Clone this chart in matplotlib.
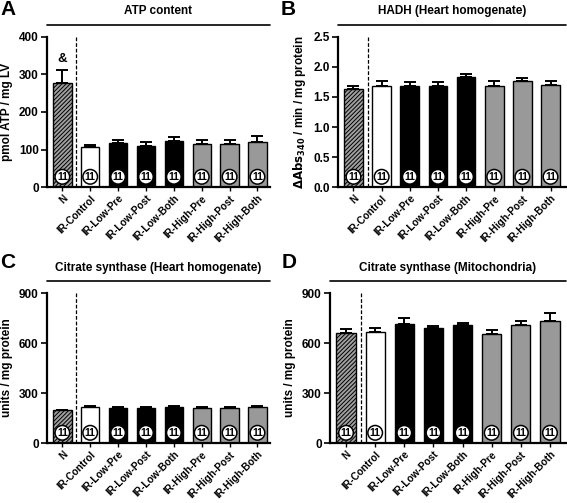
import numpy as np
import matplotlib
matplotlib.use('Agg')
import matplotlib.pyplot as plt
import matplotlib.transforms as mtransforms

plt.rcParams['font.family'] = ['Liberation Sans', 'DejaVu Sans']
plt.rcParams['font.weight'] = 'bold'
plt.rcParams['hatch.color'] = '#222222'
plt.rcParams['hatch.linewidth'] = 0.7

groups = ['N', 'IR-Control', 'IR-Low-Pre', 'IR-Low-Post', 'IR-Low-Both',
          'IR-High-Pre', 'IR-High-Post', 'IR-High-Both']
n_per_group = [11, 11, 11, 11, 11, 11, 11, 11]

atp_mean = [278, 106, 117, 110, 123, 115, 114, 121]
atp_err = [35, 6, 7, 10, 10, 9, 10, 14]

hadh_mean = [1.63, 1.69, 1.68, 1.69, 1.84, 1.69, 1.76, 1.70]
hadh_err = [0.05, 0.07, 0.07, 0.06, 0.04, 0.07, 0.06, 0.07]

cs_hom_mean = [197, 215, 213, 213, 218, 208, 210, 215]
cs_hom_err = [3, 6, 5, 6, 6, 7, 4, 5]

cs_mito_mean = [660, 668, 715, 688, 710, 655, 710, 730]
cs_mito_err = [27, 20, 33, 17, 12, 23, 20, 48]

face = ['#a0a0a0', 'white', 'black', 'black', 'black', '#999999', '#999999', '#999999']
hatches = ['////////', None, None, None, None, None, None, None]

fig = plt.figure(figsize=(5.67, 5.03), dpi=100)
W, H = 567.0, 503.0


def panel(rect, letter, letter_xy, title, mean, err, ylim, yticks, ylabel, yfmt, xr=7.45, andsign=False):
    l, t, r, b = rect
    ax = fig.add_axes([l / W, 1 - b / H, (r - l) / W, (b - t) / H])
    x = np.arange(len(groups))
    for i in range(len(groups)):
        ax.bar(x[i], mean[i], width=0.66, color=face[i], edgecolor='black',
               linewidth=1.0, hatch=hatches[i], zorder=2)
        ax.errorbar(x[i], mean[i], yerr=[[0], [err[i]]], fmt='none',
                    ecolor='black', elinewidth=1.4, capsize=4, capthick=1.4, zorder=1)
    ax.set_xlim(-0.55, xr)
    ax.set_ylim(*ylim)
    ax.set_yticks(yticks)
    ax.set_yticklabels([yfmt.format(v) for v in yticks], fontsize=8.5, fontweight='bold')
    ax.set_xticks(x)
    ax.set_xticklabels(groups, rotation=45, ha='right', rotation_mode='anchor',
                       fontsize=7.3, fontweight='bold')
    ax.tick_params(axis='x', length=3, width=1, pad=1.5)
    ax.tick_params(axis='y', length=4, width=1.2, pad=2)
    for s in ['top', 'right']:
        ax.spines[s].set_visible(False)
    ax.spines['left'].set_linewidth(1.6)
    ax.spines['bottom'].set_linewidth(1.6)
    ax.axvline(0.5, color='black', linestyle=(0, (3, 1.5)), linewidth=0.9, zorder=3)
    ax.set_ylabel(ylabel, fontsize=8.5, fontweight='bold', labelpad=4)
    trans = mtransforms.blended_transform_factory(ax.transData, ax.transAxes)
    for i in range(len(groups)):
        ax.text(x[i], 0.068, str(n_per_group[i]), transform=trans, ha='center', va='center',
                fontsize=7.5, fontweight='bold', zorder=5,
                bbox=dict(boxstyle='circle,pad=0.18', fc='white', ec='black', lw=1.1))
    # title with line
    ax.annotate('', xy=(1.0, 1.08), xytext=(0.0, 1.08), xycoords='axes fraction',
                arrowprops=dict(arrowstyle='-', lw=1.2, color='black', shrinkA=0, shrinkB=0))
    ax.text(0.5, 1.13, title, transform=ax.transAxes, ha='center', va='bottom',
            fontsize=8.5, fontweight='bold')
    fig.text(letter_xy[0] / W, 1 - letter_xy[1] / H, letter, ha='left', va='top',
             fontsize=15, fontweight='bold')
    if andsign:
        ax.text(0, mean[0] + err[0] + 12, '&', ha='center', va='bottom',
                fontsize=9.5, fontweight='bold')
    return ax


panel((47, 37, 270, 187), 'A', (0, 0), 'ATP content', atp_mean, atp_err,
      (0, 400), [0, 100, 200, 300, 400], 'pmol ATP / mg LV', '{:.0f}', andsign=True)
panel((338, 37, 566, 187), 'B', (281, 0), 'HADH (Heart homogenate)', hadh_mean, hadh_err,
      (0, 2.5), [0.0, 0.5, 1.0, 1.5, 2.0, 2.5],
      r'$\mathbf{\Delta Abs_{340}}$ / min / mg protein', '{:.1f}', xr=7.55)
panel((47, 293, 270, 443), 'C', (0, 253), 'Citrate synthase (Heart homogenate)', cs_hom_mean, cs_hom_err,
      (0, 900), [0, 300, 600, 900], 'units / mg protein', '{:.0f}')
panel((330, 293, 566, 443), 'D', (282, 253), 'Citrate synthase (Mitochondria)', cs_mito_mean, cs_mito_err,
      (0, 900), [0, 300, 600, 900], 'units / mg protein', '{:.0f}', xr=7.55)

fig.savefig('out.png', dpi=100)
